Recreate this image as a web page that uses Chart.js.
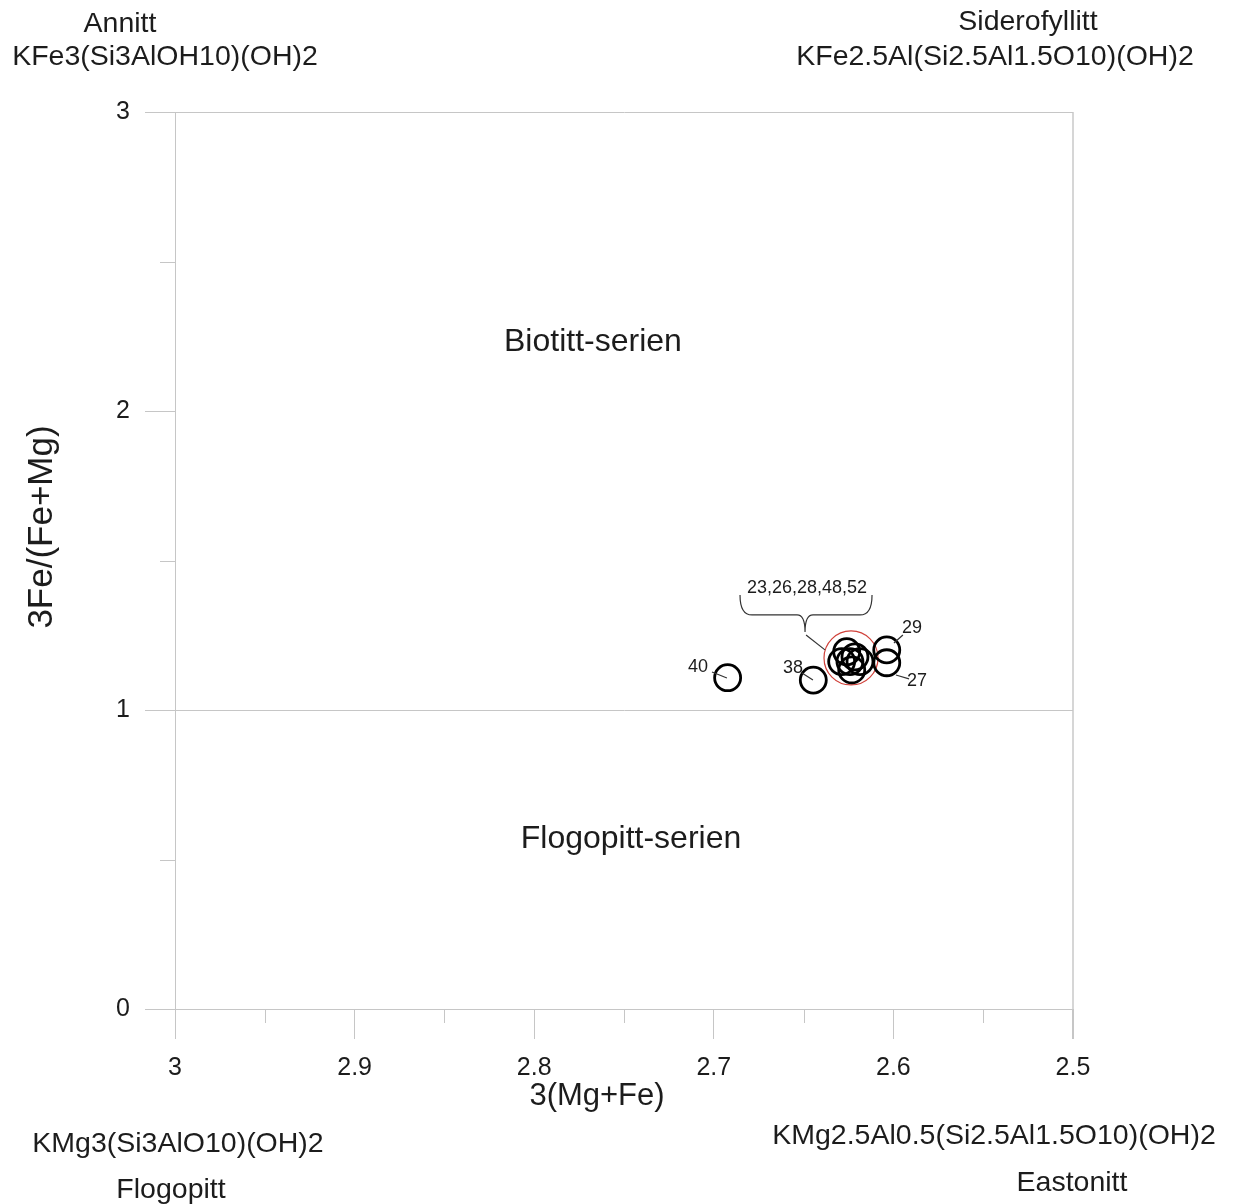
<!DOCTYPE html>
<html lang="no">
<head>
    <meta charset="UTF-8">
    <title>Biotitt-serien / Flogopitt-serien</title>
    <script src="https://cdn.jsdelivr.net/npm/chart.js@4.4.4/dist/chart.umd.min.js"></script>
</head>
<body style="margin: 0; background: #fff;">
    <canvas id="micaChart" width="1234" height="1204"></canvas>

    <script>
        // Prøver: 3(Mg+Fe) og 3Fe/(Fe+Mg)
        const sampleIds = ['40', '38', '29', '27', '23', '26', '28', '48', '52', ''];
        const mgFe = [2.6923, 2.6446, 2.6037, 2.6037, 2.6260, 2.6288, 2.6242, 2.6186, 2.6232, 2.6214];
        const feRatio = [1.108, 1.100, 1.201, 1.158, 1.195, 1.162, 1.162, 1.162, 1.134, 1.178];

        // Rød ring rundt gruppen 23,26,28,48,52
        const groupX = [2.6236];
        const groupY = [1.174];

        // Akser
        const xMajorStep = 0.1;
        const xMinorTicks = [2.95, 2.85, 2.75, 2.65, 2.55];
        const yMinorTicks = [0.5, 1.5, 2.5];

        const gridColor = '#c6c6c6';
        const textColor = '#1c1c1c';
        const fontFamily = "'Liberation Sans', Arial, sans-serif";

        // Etiketter og hjelpelinjer inne i diagrammet (dataenheter)
        const pointLabels = [
            { text: '40', x: 2.7088, y: 1.144, from: [2.7010, 1.127], to: [2.6927, 1.107] },
            { text: '38', x: 2.6559, y: 1.140, from: [2.6509, 1.124], to: [2.6448, 1.100] },
            { text: '29', x: 2.5896, y: 1.274, from: [2.5947, 1.251], to: [2.5997, 1.224] },
            { text: '27', x: 2.5869, y: 1.097, from: [2.5986, 1.117], to: [2.5913, 1.104] }
        ];
        const groupLabel = {
            text: '23,26,28,48,52', x: 2.6481, y: 1.408,
            left: 2.6854, right: 2.6119, top: 1.385, mid: 1.318, tipX: 2.6492, tipY: 1.261,
            lineTo: [2.6381, 1.201]
        };
        const regionLabels = [
            { text: 'Biotitt-serien', x: 2.7673, y: 2.231 },
            { text: 'Flogopitt-serien', x: 2.7461, y: 0.569 }
        ];

        function line(ctx, x1, y1, x2, y2) {
            ctx.beginPath();
            ctx.moveTo(x1, y1);
            ctx.lineTo(x2, y2);
            ctx.stroke();
        }

        const annotations = {
            id: 'annotations',
            afterDraw(chart) {
                const ctx = chart.ctx;
                const xs = chart.scales.x;
                const ys = chart.scales.y;
                const px = v => xs.getPixelForValue(v);
                const py = v => ys.getPixelForValue(v);
                ctx.save();

                // små merker
                ctx.strokeStyle = gridColor;
                ctx.lineWidth = 1;
                yMinorTicks.forEach(v => {
                    const y = Math.round(py(v)) + 0.5;
                    line(ctx, xs.left - 15, y, xs.left, y);
                });
                xMinorTicks.forEach(v => {
                    const x = Math.round(px(v)) + 0.5;
                    line(ctx, x, ys.bottom, x, ys.bottom + 14);
                });

                // områdenavn
                ctx.fillStyle = textColor;
                ctx.textAlign = 'center';
                ctx.textBaseline = 'middle';
                ctx.font = '32px ' + fontFamily;
                regionLabels.forEach(l => ctx.fillText(l.text, px(l.x), py(l.y)));

                // prøvenummer med hjelpelinjer
                ctx.font = '18px ' + fontFamily;
                ctx.strokeStyle = '#333';
                ctx.lineWidth = 1.2;
                pointLabels.forEach(l => {
                    ctx.fillText(l.text, px(l.x), py(l.y));
                    line(ctx, px(l.from[0]), py(l.from[1]), px(l.to[0]), py(l.to[1]));
                });

                // klamme over gruppen
                const g = groupLabel;
                ctx.fillText(g.text, px(g.x), py(g.y));
                const L = px(g.left), R = px(g.right), T = py(g.top), M = py(g.mid);
                const TX = px(g.tipX), TY = py(g.tipY);
                ctx.beginPath();
                ctx.moveTo(L, T);
                ctx.quadraticCurveTo(L, M, L + 12, M);
                ctx.lineTo(TX - 8, M);
                ctx.quadraticCurveTo(TX, M, TX, TY);
                ctx.quadraticCurveTo(TX, M, TX + 8, M);
                ctx.lineTo(R - 12, M);
                ctx.quadraticCurveTo(R, M, R, T);
                ctx.stroke();
                line(ctx, TX + 1, TY + 3, px(g.lineTo[0]), py(g.lineTo[1]));

                // aksetitler
                ctx.font = '31px ' + fontFamily;
                ctx.fillText('3(Mg+Fe)', 597, 1096);
                ctx.save();
                ctx.translate(42, 527);
                ctx.rotate(-Math.PI / 2);
                ctx.font = '35px ' + fontFamily;
                ctx.fillText('3Fe/(Fe+Mg)', 0, 0);
                ctx.restore();

                // endeledd i hjørnene
                ctx.font = '28.5px ' + fontFamily;
                ctx.textBaseline = 'alphabetic';
                ctx.fillText('Annitt', 120, 32);
                ctx.fillText('KFe3(Si3AlOH10)(OH)2', 165, 65);
                ctx.fillText('Siderofyllitt', 1028, 30);
                ctx.fillText('KFe2.5Al(Si2.5Al1.5O10)(OH)2', 995, 65);
                ctx.fillText('KMg3(Si3AlO10)(OH)2', 178, 1152);
                ctx.fillText('Flogopitt', 171, 1198);
                ctx.fillText('KMg2.5Al0.5(Si2.5Al1.5O10)(OH)2', 994, 1144);
                ctx.fillText('Eastonitt', 1072, 1191);

                ctx.restore();
            }
        };

        function initChart() {
            Chart.defaults.font.family = fontFamily;
            const ctx = document.getElementById('micaChart').getContext('2d');
            new Chart(ctx, {
                type: 'scatter',
                data: {
                    datasets: [
                        {
                            label: 'Prøver',
                            data: mgFe.map((x, i) => ({ x: x, y: feRatio[i], id: sampleIds[i] })),
                            pointRadius: 13,
                            pointBorderWidth: 2.8,
                            borderColor: '#000',
                            backgroundColor: 'rgba(0,0,0,0)',
                            order: 1
                        },
                        {
                            label: 'Gruppe',
                            data: groupX.map((x, i) => ({ x: x, y: groupY[i] })),
                            pointRadius: 27,
                            pointBorderWidth: 1.2,
                            borderColor: '#d0413a',
                            backgroundColor: 'rgba(0,0,0,0)',
                            order: 2
                        }
                    ]
                },
                options: {
                    responsive: false,
                    devicePixelRatio: 1,
                    animation: false,
                    events: [],
                    layout: { padding: { top: 112, right: 161, left: 0, bottom: 0 } },
                    plugins: { legend: { display: false }, tooltip: { enabled: false } },
                    scales: {
                        x: {
                            type: 'linear',
                            reverse: true,
                            min: 2.5,
                            max: 3,
                            afterFit: s => { s.height = 195; },
                            ticks: {
                                stepSize: xMajorStep,
                                padding: 14,
                                color: textColor,
                                font: { size: 25 },
                                callback: v => String(Number(v.toFixed(1)))
                            },
                            grid: {
                                tickLength: 30,
                                tickColor: gridColor,
                                color: c => Math.abs(c.tick.value - 2.5) < 1e-6 ? '#d6d6d6' : 'rgba(0,0,0,0)',
                                lineWidth: c => Math.abs(c.tick.value - 2.5) < 1e-6 ? 2 : 1
                            },
                            border: { color: gridColor }
                        },
                        y: {
                            type: 'linear',
                            min: 0,
                            max: 3,
                            afterFit: s => { s.width = 175; },
                            ticks: {
                                stepSize: 1,
                                padding: 15,
                                color: textColor,
                                font: { size: 25 }
                            },
                            grid: {
                                tickLength: 30,
                                tickColor: gridColor,
                                color: c => (c.tick.value === 1 || c.tick.value === 3) ? gridColor : 'rgba(0,0,0,0)'
                            },
                            border: { color: gridColor }
                        }
                    }
                },
                plugins: [annotations]
            });
        }

        window.onload = initChart;
    </script>
</body>
</html>
